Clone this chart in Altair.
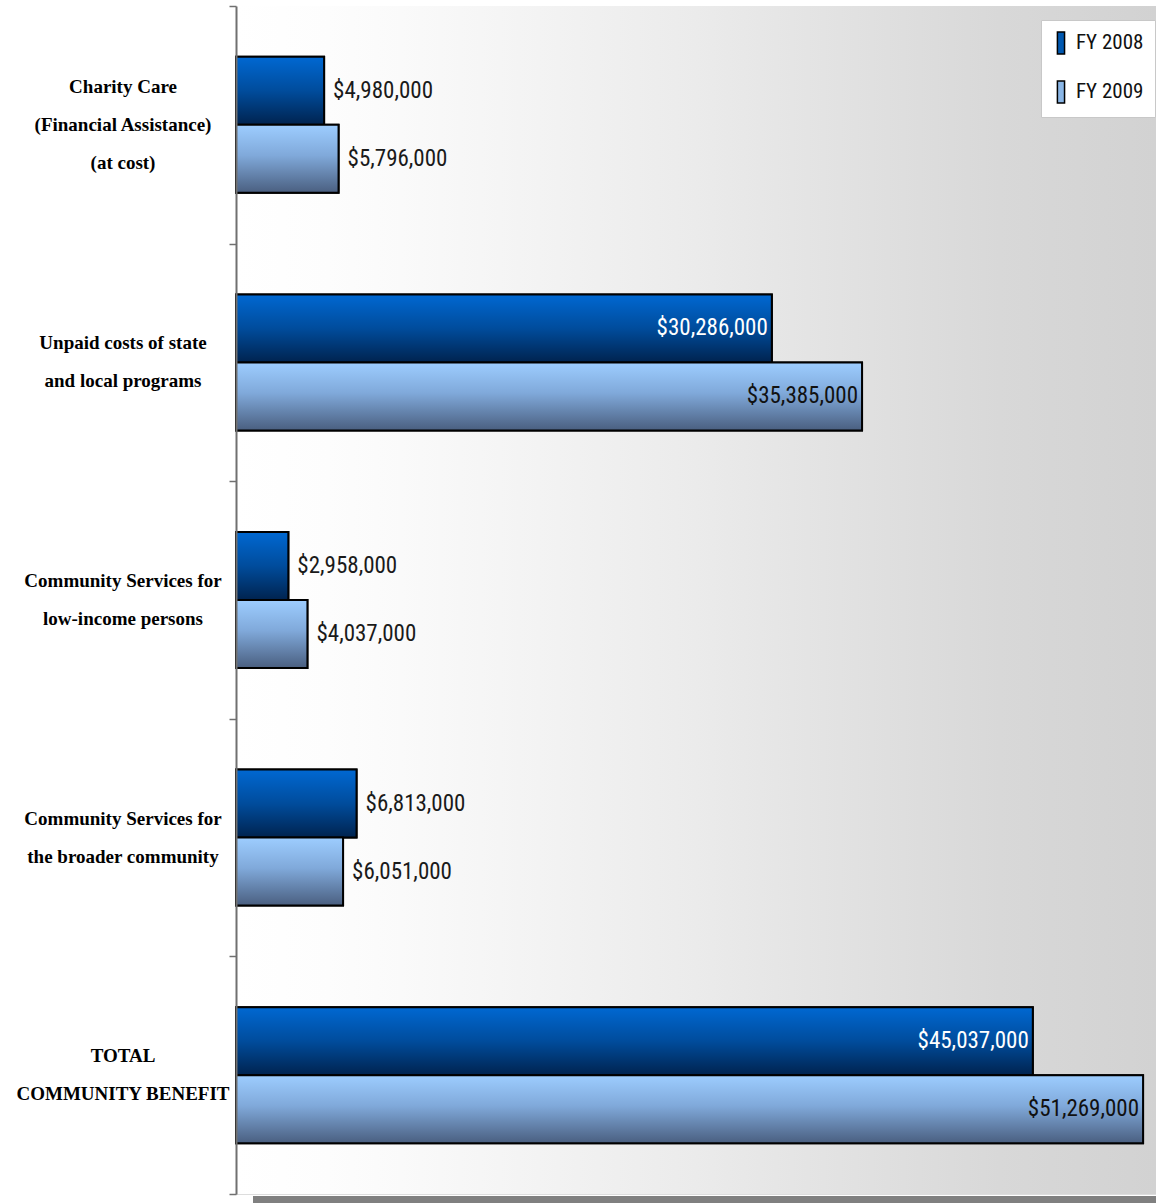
import altair as alt
import pandas as pd

categories = [
    "Charity Care|(Financial Assistance)|(at cost)",
    "Unpaid costs of state|and local programs",
    "Community Services for|low-income persons",
    "Community Services for|the broader community",
    "TOTAL|COMMUNITY BENEFIT",
]
series = ["FY 2008", "FY 2009"]
fy2008 = [4980000, 30286000, 2958000, 6813000, 45037000]
fy2009 = [5796000, 35385000, 4037000, 6051000, 51269000]

rows = []
for c, a, b in zip(categories, fy2008, fy2009):
    rows.append({"category": c, "series": series[0], "value": a})
    rows.append({"category": c, "series": series[1], "value": b})
df = pd.DataFrame(rows)
catdf = pd.DataFrame({"category": categories,
                      "nlines": [len(c.split("|")) for c in categories]})
one = pd.DataFrame({"k": [0]})

W, H = 920, 1188
NARROW = "Liberation Sans Narrow, Arial Narrow, Roboto Condensed, Liberation Sans"

grad08 = {"gradient": "linear", "x1": 0, "y1": 0, "x2": 0, "y2": 1,
          "stops": [{"offset": 0, "color": "#0068d2"},
                    {"offset": 0.5, "color": "#004c9c"},
                    {"offset": 1, "color": "#00234f"}]}
grad09 = {"gradient": "linear", "x1": 0, "y1": 0, "x2": 0, "y2": 1,
          "stops": [{"offset": 0, "color": "#9dcdff"},
                    {"offset": 0.45, "color": "#80a9da"},
                    {"offset": 1, "color": "#4a5f80"}]}
bggrad = {"gradient": "linear", "x1": 0, "y1": 0, "x2": 1, "y2": 0,
          "stops": [{"offset": 0, "color": "#ffffff"},
                    {"offset": 0.1, "color": "#fdfdfd"},
                    {"offset": 0.18, "color": "#fafafa"},
                    {"offset": 0.5, "color": "#ebebeb"},
                    {"offset": 0.83, "color": "#d8d8d8"},
                    {"offset": 1, "color": "#d2d2d2"}]}

yenc = alt.Y(
    "category:N", sort=categories,
    scale=alt.Scale(domain=categories, paddingInner=0, paddingOuter=0),
    axis=alt.Axis(title=None, labels=False, zindex=1,
                  tickBand="extent", tickSize=7, tickWidth=1.5,
                  tickColor="#707070", domainColor="#707070", domainWidth=2),
)
yoff = alt.YOffset("series:N", sort=series,
                   scale=alt.Scale(domain=series, paddingInner=0, paddingOuter=0.747))
xenc = alt.X("value:Q", scale=alt.Scale(domain=[0, 52000000], nice=False, zero=True), axis=None)

bg = alt.Chart(one).mark_rect(fill=bggrad).encode(
    x=alt.value(0), x2=alt.value("width"), y=alt.value(0), y2=alt.value("height"))
shadow = alt.Chart(one).mark_rect(fill="#808080").encode(
    x=alt.value(17), x2=alt.value(W + 10), y=alt.value(H + 2), y2=alt.value(H + 14))

base = alt.Chart(df)
legend_bars = base.mark_bar(stroke="black", strokeWidth=2).encode(
    y=yenc, yOffset=yoff, x=xenc,
    fill=alt.Fill("series:N", sort=series,
                  scale=alt.Scale(domain=series, range=["#0058b0", "#8ab6e6"]),
                  legend=alt.Legend(title=None, orient="none", legendX=805, legendY=14,
                                    fillColor="white", strokeColor="#c8c8c8", padding=11,
                                    symbolType="M-0.6,-1H0.05V1H-0.6Z", symbolSize=484,
                                    symbolStrokeColor="black", symbolStrokeWidth=1.5,
                                    labelFont=NARROW, labelFontSize=21, labelColor="#111",
                                    labelOffset=0, rowPadding=21, labelLimit=0)),
)
bars08 = base.transform_filter(alt.datum.series == series[0]).mark_bar(
    fill=grad08, stroke="black", strokeWidth=2).encode(y=yenc, yOffset=yoff, x=xenc)
bars09 = base.transform_filter(alt.datum.series == series[1]).mark_bar(
    fill=grad09, stroke="black", strokeWidth=2).encode(y=yenc, yOffset=yoff, x=xenc)

lab = base.transform_calculate(
    lbl="'$' + format(datum.value, ',')",
    tcol="datum.series == 'FY 2008' ? 'white' : '#111111'")
outside = lab.transform_filter("datum.value <= 20000000").mark_text(
    align="left", baseline="middle", dx=9, font=NARROW, fontSize=23, color="#1a1a1a"
).encode(y=yenc, yOffset=yoff, x=xenc, text="lbl:N")
inside = lab.transform_filter("datum.value > 20000000").mark_text(
    align="right", baseline="middle", dx=-4, font=NARROW, fontSize=23
).encode(y=yenc, yOffset=yoff, x=xenc, text="lbl:N",
         color=alt.Color("tcol:N", scale=None))

catbase = alt.Chart(catdf)
cat_style = dict(align="center", baseline="middle", lineBreak="|", lineHeight=38,
                 font="Liberation Serif", fontWeight="bold", fontSize=19, color="black")
cat3 = catbase.transform_filter("datum.nlines == 3").mark_text(dy=-38, **cat_style).encode(
    y=yenc, x=alt.value(-113), text="category:N")
cat2 = catbase.transform_filter("datum.nlines == 2").mark_text(dy=-19, **cat_style).encode(
    y=yenc, x=alt.value(-113), text="category:N")

chart = alt.layer(bg, shadow, legend_bars, bars08, bars09, outside, inside, cat3, cat2).properties(
    width=W, height=H,
    autosize=alt.AutoSizeParams(type="none"),
    padding={"left": 236, "top": 6, "right": 0, "bottom": 9},
).configure_view(stroke="#9a9a9a", strokeWidth=1.5).configure(background="white")

chart.save("out.html", embed_options={"renderer": "svg", "actions": False})
